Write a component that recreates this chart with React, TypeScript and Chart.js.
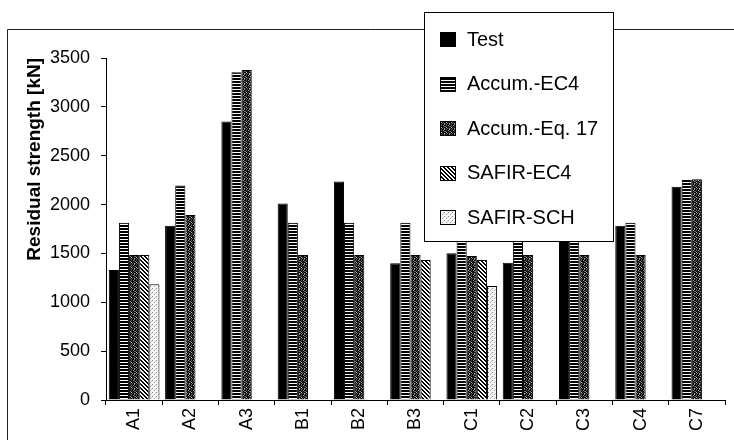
import React, { useEffect, useRef } from 'react';
import { Chart, registerables } from 'chart.js';

Chart.register(...registerables);

const categories = ['A1', 'A2', 'A3', 'B1', 'B2', 'B3', 'C1', 'C2', 'C3', 'C4', 'C7'];
const seriesNames = ['Test', 'Accum.-EC4', 'Accum.-Eq. 17', 'SAFIR-EC4', 'SAFIR-SCH'];
const testValues = [1330, 1784, 2849, 2010, 2235, 1399, 1501, 1405, 1780, 1784, 2183];
const accumEc4Values = [1815, 2194, 3354, 1815, 1815, 1815, 1815, 1815, 1815, 1815, 2252];
const accumEq17Values = [1484, 1894, 3378, 1484, 1484, 1484, 1474, 1484, 1484, 1484, 2259];
const safirEc4Values = [1484, null, null, null, null, 1433, 1433, null, null, null, null];
const safirSchValues = [1184, null, null, null, null, null, 1167, null, null, null, null];
const yTickValues = [0, 500, 1000, 1500, 2000, 2500, 3000, 3500];

const FONT = "'Liberation Sans', Arial, sans-serif";

function makeCanvas(w: number, h: number) {
  const c = document.createElement('canvas');
  c.width = w;
  c.height = h;
  return c;
}

function makePatterns(ctx: CanvasRenderingContext2D) {
  // horizontal stripes
  const s = makeCanvas(4, 3);
  const sc = s.getContext('2d')!;
  sc.fillStyle = '#fff';
  sc.fillRect(0, 0, 4, 3);
  sc.fillStyle = '#000';
  sc.fillRect(0, 0, 4, 2);

  // dark speckle
  const sp = makeCanvas(5, 5);
  const spc = sp.getContext('2d')!;
  const grid = [
    '#000', '#444', '#000', '#999', '#000',
    '#777', '#000', '#222', '#000', '#555',
    '#000', '#bbb', '#000', '#333', '#000',
    '#333', '#000', '#666', '#000', '#aaa',
    '#000', '#555', '#000', '#000', '#888',
  ];
  grid.forEach((col, i) => {
    spc.fillStyle = col;
    spc.fillRect(i % 5, Math.floor(i / 5), 1, 1);
  });

  // diagonal hatch (top-left to bottom-right)
  const h = makeCanvas(4, 4);
  const hc = h.getContext('2d')!;
  hc.fillStyle = '#fff';
  hc.fillRect(0, 0, 4, 4);
  hc.fillStyle = '#000';
  for (let i = 0; i < 4; i++) {
    hc.fillRect(i, i, 1, 1);
    hc.fillRect((i + 1) % 4, i, 1, 1);
  }

  // light dots
  const d = makeCanvas(4, 4);
  const dc = d.getContext('2d')!;
  dc.fillStyle = '#f4f4f4';
  dc.fillRect(0, 0, 4, 4);
  dc.fillStyle = '#888';
  dc.fillRect(0, 0, 1, 1);
  dc.fillStyle = '#aaa';
  dc.fillRect(2, 2, 1, 1);
  dc.fillStyle = '#ccc';
  dc.fillRect(3, 1, 1, 1);

  return [
    '#000000',
    ctx.createPattern(s, 'repeat')!,
    ctx.createPattern(sp, 'repeat')!,
    ctx.createPattern(h, 'repeat')!,
    ctx.createPattern(d, 'repeat')!,
  ];
}

export default function App() {
  const ref = useRef<HTMLCanvasElement | null>(null);

  useEffect(() => {
    const canvas = ref.current!;
    const ctx = canvas.getContext('2d')!;
    const fills = makePatterns(ctx);
    const seriesValues = [testValues, accumEc4Values, accumEq17Values, safirEc4Values, safirSchValues];

    const framePlugin = {
      id: 'frame',
      beforeDraw(chart: any) {
        const c = chart.ctx;
        c.save();
        c.fillStyle = '#fff';
        c.fillRect(0, 0, chart.width, chart.height);
        c.strokeStyle = '#222';
        c.lineWidth = 1;
        c.beginPath();
        c.moveTo(7.5, 440);
        c.lineTo(7.5, 29.5);
        c.lineTo(734, 29.5);
        c.stroke();
        c.restore();
      },
    };

    const legendPlugin = {
      id: 'overlayLegend',
      afterDraw(chart: any) {
        const c = chart.ctx;
        c.save();
        const x0 = 424, y0 = 12, w = 189, hgt = 229;
        c.fillStyle = '#fff';
        c.fillRect(x0, y0, w, hgt);
        c.strokeStyle = '#000';
        c.lineWidth = 1;
        c.strokeRect(x0 + 0.5, y0 + 0.5, w, hgt);
        c.font = `20px ${FONT}`;
        c.textBaseline = 'middle';
        c.textAlign = 'left';
        seriesNames.forEach((name, i) => {
          const yc = 39 + i * 44.5;
          c.fillStyle = fills[i] as any;
          c.fillRect(440, Math.round(yc - 7), 15, 14);
          c.strokeStyle = '#000';
          c.strokeRect(440.5, Math.round(yc - 7) + 0.5, 15, 14);
          c.fillStyle = '#000';
          c.fillText(name, 467, yc + 1);
        });
        c.restore();
      },
    };

    const chart = new Chart(canvas, {
      type: 'bar',
      data: {
        labels: categories,
        datasets: seriesNames.map((name, i) => ({
          label: name,
          data: seriesValues[i],
          backgroundColor: fills[i] as any,
          borderColor: '#000',
          borderWidth: 1,
          categoryPercentage: 0.9,
          barPercentage: 1.0,
        })),
      },
      options: {
        animation: false,
        responsive: false,
        devicePixelRatio: 1,
        layout: { padding: { left: 0, top: 58, right: 9, bottom: 0 } },
        plugins: {
          legend: { display: false },
          tooltip: { enabled: false },
        },
        scales: {
          x: {
            grid: { drawOnChartArea: false, drawTicks: true, tickLength: 5, color: '#000' },
            border: { display: true, color: '#000', width: 1 },
            ticks: {
              color: '#000',
              font: { family: FONT, size: 18 },
              minRotation: 90,
              maxRotation: 90,
              padding: 3,
              autoSkip: false,
            },
            afterFit(scale: any) {
              scale.height = 40;
            },
          },
          y: {
            min: 0,
            max: 3500,
            afterBuildTicks(scale: any) {
              scale.ticks = yTickValues.map((v) => ({ value: v }));
            },
            grid: { drawOnChartArea: false, drawTicks: true, tickLength: 5, color: '#000' },
            border: { display: true, color: '#000', width: 1 },
            ticks: {
              color: '#000',
              font: { family: FONT, size: 18 },
              padding: 11,
              callback: (v: any) => String(v),
            },
            title: {
              display: true,
              text: 'Residual strength [kN]',
              color: '#000',
              align: 'end',
              font: { family: FONT, size: 19, weight: 'bold' },
              padding: { top: 23, bottom: 0 },
            },
            afterFit(scale: any) {
              scale.width = 106;
            },
          },
        },
      },
      plugins: [framePlugin, legendPlugin],
    } as any);

    return () => chart.destroy();
  }, []);

  return (
    <div style={{ position: 'absolute', left: 0, top: 0, width: 734, height: 440 }}>
      <canvas ref={ref} width={734} height={440} />
    </div>
  );
}
